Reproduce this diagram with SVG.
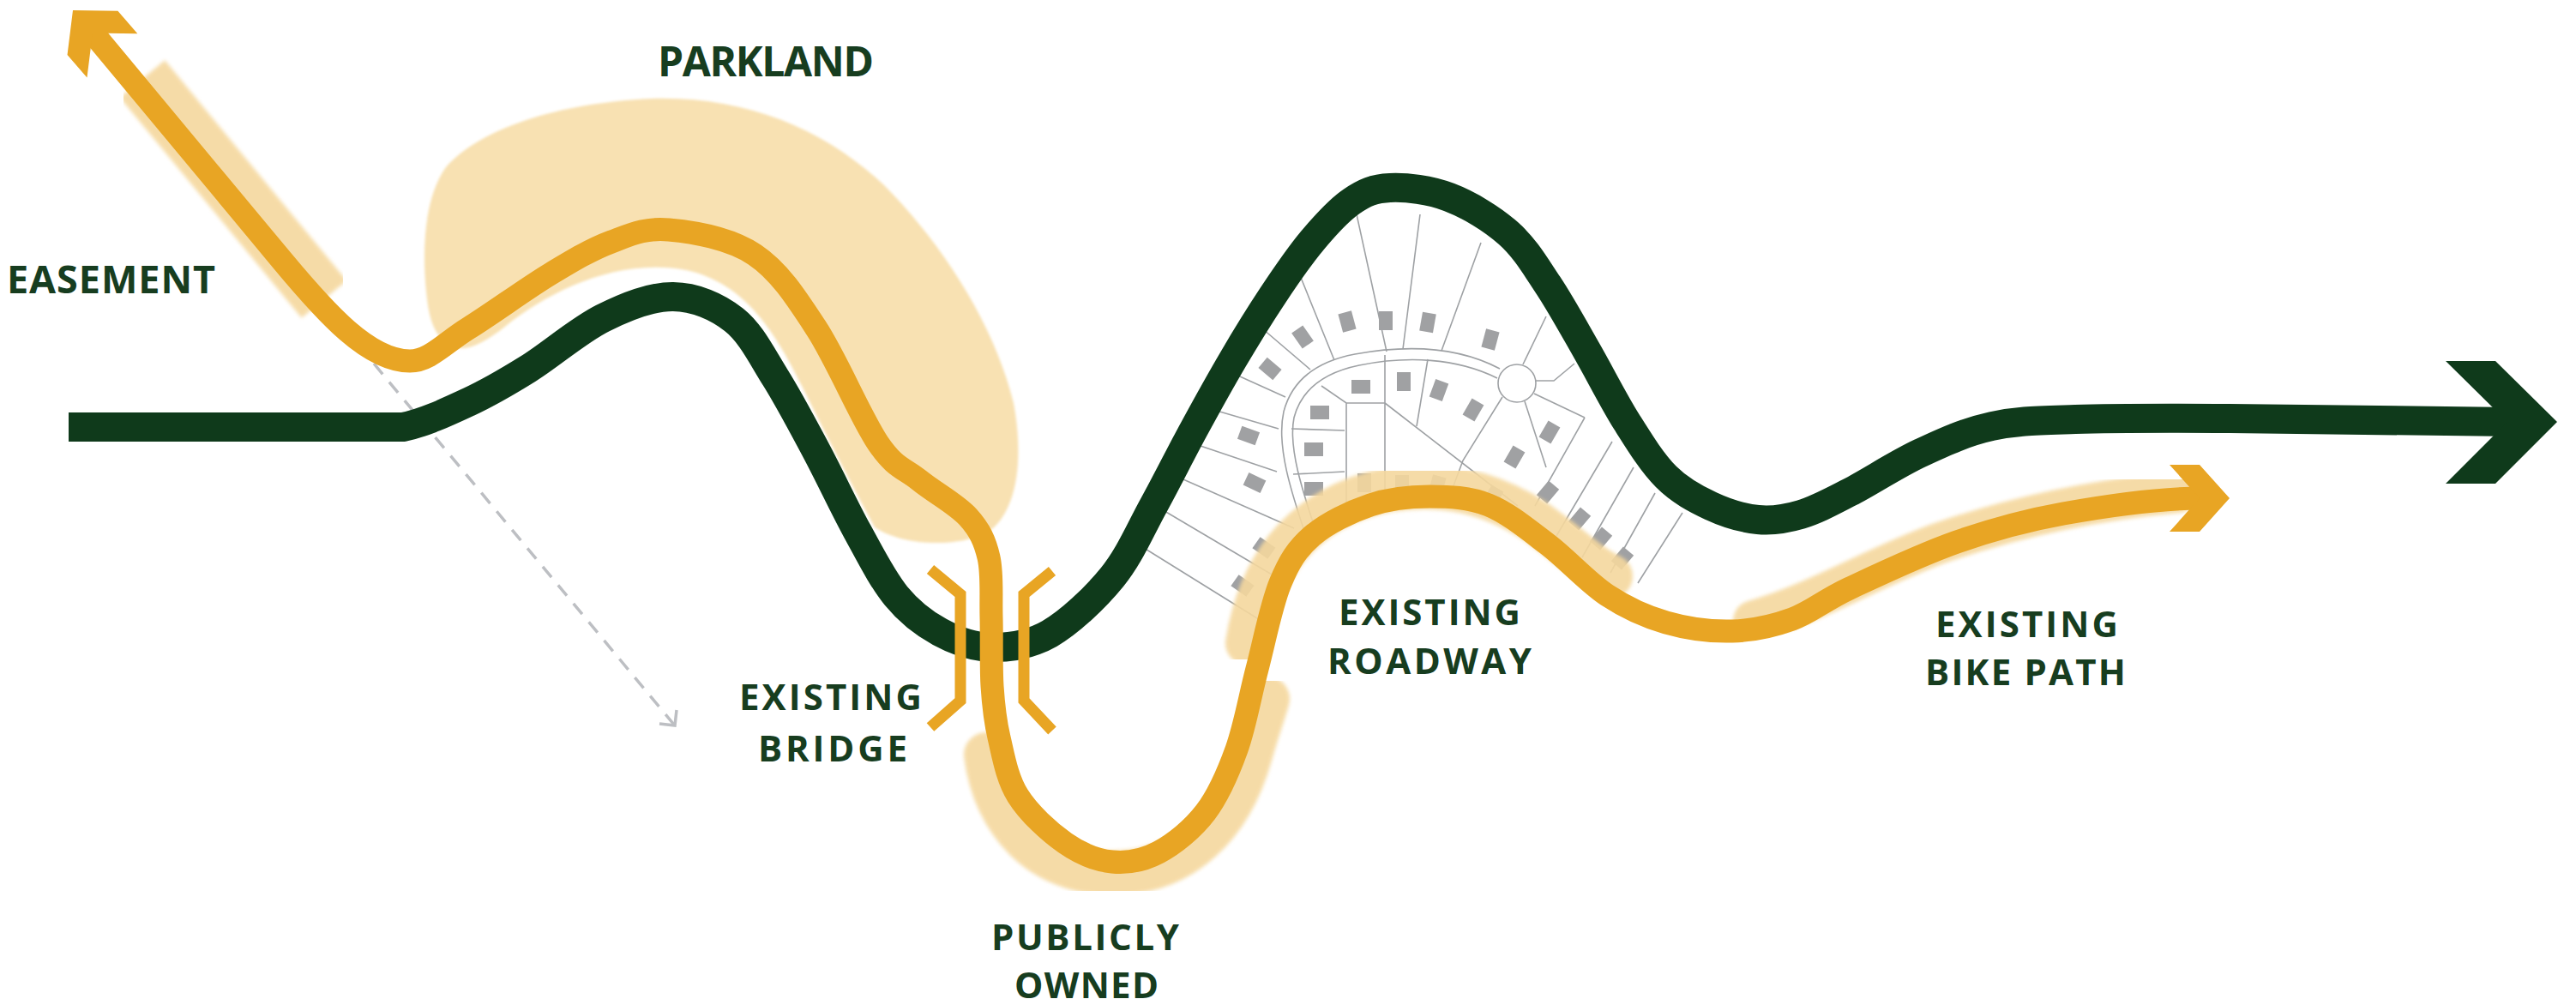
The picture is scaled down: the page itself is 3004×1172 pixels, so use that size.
<svg xmlns="http://www.w3.org/2000/svg" width="3004" height="1172" viewBox="0 0 3004 1172">
  <defs>
    <style>
      .lbl{font-family:"Open Sans","Liberation Sans",sans-serif;font-weight:700;fill:#173D1F;text-anchor:middle}
      .road{fill:none;stroke:#0F3A1B;stroke-width:34;stroke-linecap:butt;stroke-linejoin:round}
      .trail{fill:none;stroke:#E8A524;stroke-width:27;stroke-linecap:butt;stroke-linejoin:round}
      .band{fill:none;stroke:#F5D89E;stroke-linecap:round;opacity:0.9}
      .lot{fill:none;stroke:#9EA1A4;stroke-width:1.6}
      .house{fill:#A0A1A3}
      .bracket{fill:none;stroke:#E8A524;stroke-width:13;stroke-linejoin:miter}
      .dash{fill:none;stroke:#BDBFC3;stroke-width:3.5}
    </style>
    <filter id="soft" x="-10%" y="-10%" width="120%" height="120%">
      <feGaussianBlur stdDeviation="2"/>
    </filter>
    <filter id="softer" x="-5%" y="-5%" width="110%" height="110%">
      <feGaussianBlur stdDeviation="1.5"/>
    </filter>
    <polygon id="chevSmall" points="-70,-39 -35,-39 0,0 -35,39 -70,39 -35,0"/>
    <polygon id="chevLarge" points="-130,-71 -72,-71 0,0 -72,72 -130,72 -58,0"/>
    <rect id="hs" x="-8" y="-11" width="16" height="22"/>
  </defs>

  <rect x="0" y="0" width="3004" height="1172" fill="#FFFFFF"/>

  <!-- parkland area -->
  <g id="parkland">
    <path d="M497,340 C492,290 495,230 520,195 C560,150 650,120 760,115 C870,112 960,150 1030,215 C1100,285 1160,380 1182,470 C1195,540 1185,600 1150,622 C1110,640 1050,635 1020,615 C990,560 960,500 935,450 C905,390 870,330 800,315 C720,300 640,340 590,380 C565,400 545,410 530,405 C505,395 500,370 497,340 Z" fill="#F8E1B2" filter="url(#softer)"/>
    <text class="lbl" x="893" y="89" font-size="48" textLength="252">PARKLAND</text>
  </g>

  <!-- easement strip -->
  <g id="easement">
    <path class="band" d="M166,92 L378,349" stroke-width="68" style="stroke-linecap:butt" filter="url(#soft)"/>
    <text class="lbl" x="129.5" y="342" font-size="45" textLength="243">EASEMENT</text>
  </g>

  <!-- subdivision: lots, cul-de-sac and houses -->
  <g id="subdivision">
    <path class="lot" d="M1524,628 C1506,575 1488,520 1497,480 C1507,442 1538,421 1580,413 C1640,402 1700,404 1749,430"/>
    <path class="lot" d="M1536,624 C1519,573 1502,522 1509,487 C1518,453 1546,434 1585,426 C1640,415 1698,417 1746,441"/>
    <circle class="lot" cx="1769" cy="447" r="22"/>
    <path class="lot" d="M1528,431 L1466,378 M1556,420 L1509,304 M1617,410 L1582,250 M1636,407 L1656,250 M1681,409 L1727,283 M1776,425 L1803,369 M1790,444 L1812,444 L1836,424"/>
    <path class="lot" d="M1437,435 L1499,463 M1412,477 L1491,500 M1391,517 L1489,550 M1373,556 L1509,616 M1353,593 L1500,680 M1334,639 L1474,726"/>
    <path class="lot" d="M1541,450 L1570,470 L1615,470 M1570,470 L1570,592 M1615,414 L1615,585 M1615,470 L1770,590 M1665,419 L1652,497 M1752,463 L1706,537 L1690,580 M1778,468 L1803,545 M1789,459 L1848,487 M1506,500 L1568,502 M1508,553 L1568,550"/>
    <path class="lot" d="M1848,487 L1790,590 M1880,515 L1815,625 M1905,545 L1845,650 M1930,575 L1878,668 M1962,598 L1910,680"/>
    <g class="house">
      <use href="#hs" transform="translate(1519,393) rotate(-35)"/>
      <use href="#hs" transform="translate(1571,375) rotate(-15)"/>
      <use href="#hs" transform="translate(1616,374)"/>
      <use href="#hs" transform="translate(1665,376) rotate(10)"/>
      <use href="#hs" transform="translate(1738,396) rotate(15)"/>
      <use href="#hs" transform="translate(1481,430) rotate(-50)"/>
      <use href="#hs" transform="translate(1456,508) rotate(-70)"/>
      <use href="#hs" transform="translate(1463,563) rotate(-65)"/>
      <use href="#hs" transform="translate(1474,639) rotate(-55)"/>
      <use href="#hs" transform="translate(1449,683) rotate(-55)"/>
      <use href="#hs" transform="translate(1587,451) rotate(90)"/>
      <use href="#hs" transform="translate(1637,445)"/>
      <use href="#hs" transform="translate(1678,455) rotate(20)"/>
      <use href="#hs" transform="translate(1718,478) rotate(30)"/>
      <use href="#hs" transform="translate(1539,481) rotate(90)"/>
      <use href="#hs" transform="translate(1532,524) rotate(90)"/>
      <use href="#hs" transform="translate(1532,570) rotate(90)"/>
      <use href="#hs" transform="translate(1807,504) rotate(30)"/>
      <use href="#hs" transform="translate(1766,533) rotate(30)"/>
      <use href="#hs" transform="translate(1805,574) rotate(40)"/>
      <use href="#hs" transform="translate(1842,605) rotate(40)"/>
      <use href="#hs" transform="translate(1867,628) rotate(40)"/>
      <use href="#hs" transform="translate(1892,651) rotate(40)"/>
      <use href="#hs" transform="translate(1591,563)"/>
      <use href="#hs" transform="translate(1635,565)"/>
      <use href="#hs" transform="translate(1676,566) rotate(15)"/>
      <use href="#hs" transform="translate(1741,579) rotate(30)"/>
    </g>
  </g>

  <!-- publicly owned strip -->
  <g id="publicly-owned">
    <path class="band" d="M1150,880 C1160,960 1215,1018 1297,1018 C1380,1018 1435,962 1458,880 C1468,845 1474,830 1478,815" stroke-width="52" filter="url(#soft)"/>
    <text class="lbl" x="1265.5" y="1108" font-size="42" textLength="219">PUBLICLY</text>
    <text class="lbl" x="1267" y="1164" font-size="42" textLength="168">OWNED</text>
  </g>

  <!-- existing roadway strip -->
  <g id="existing-roadway">
    <path class="band" d="M1455,750 C1462,705 1478,668 1500,640 C1530,603 1572,580 1620,571 C1680,562 1735,572 1790,608 C1830,636 1852,660 1878,672" stroke-width="52" filter="url(#soft)"/>
    <text class="lbl" x="1667" y="729" font-size="42" textLength="212">EXISTING</text>
    <text class="lbl" x="1667" y="786" font-size="42" textLength="238">ROADWAY</text>
  </g>

  <!-- existing bike path strip -->
  <g id="existing-bike-path">
    <path class="band" d="M2045,724 C2120,702 2180,664 2260,634 C2340,606 2430,584 2540,574" stroke-width="48" filter="url(#soft)"/>
    <text class="lbl" x="2363.5" y="743" font-size="42" textLength="213">EXISTING</text>
    <text class="lbl" x="2362" y="799" font-size="42" textLength="234">BIKE PATH</text>
  </g>

  <!-- connectors -->
  <g id="connectors">
    <!-- dashed alternative route -->
    <path class="dash" d="M436,424 L786,845" stroke-dasharray="16 12"/>
    <path class="dash" d="M769,844 L787,846 L789,828" stroke-linejoin="miter"/>

    <!-- main road -->
    <path class="road" d="M80,498 L470,498 C494.3,493.2 521.7,480.3 546,469 C570.3,457.7 589.8,446.3 616,430 C642.2,413.7 674.8,385 703,371 C731.2,357 759.5,345.7 785,346 C810.5,346.3 836.2,357.3 856,373 C875.8,388.7 888,414.5 904,440 C920,465.5 936,496 952,526 C968,556 984.5,591.8 1000,620 C1015.5,648.2 1029,675.5 1045,695 C1061,714.5 1077.5,727 1096,737 C1114.5,747 1134.7,754.7 1156,755 C1177.3,755.3 1200.5,752.7 1224,739 C1247.5,725.3 1276.8,697.8 1297,673 C1317.2,648.2 1329.2,618.7 1345,590 C1360.8,561.3 1376.5,529.5 1392,501 C1407.5,472.5 1422.7,445 1438,419 C1453.3,393 1468.7,368 1484,345 C1499.3,322 1514.7,299.3 1530,281 C1545.3,262.7 1560.8,245.3 1576,235 C1591.2,224.7 1602,219.8 1621,219 C1640,218.2 1667,221.2 1690,230 C1713,238.8 1739.8,255 1759,272 C1778.2,289 1789.7,309 1805,332 C1820.3,355 1835.7,383.3 1851,410 C1866.3,436.7 1881.7,467.7 1897,492 C1912.3,516.3 1926.7,539.7 1943,556 C1959.3,572.3 1977.2,581.7 1995,590 C2012.8,598.3 2032.5,604.3 2050,606 C2067.5,607.7 2082.2,605.3 2100,600 C2117.8,594.7 2133.7,586 2157,574 C2180.3,562 2212.3,540.8 2240,528 C2267.7,515.2 2293,503.5 2323,497 C2353,490.5 2373.8,490.5 2420,489 C2466.2,487.5 2515.8,487.5 2600,488 L2930,492"/>
    <use href="#chevLarge" fill="#0F3A1B" transform="translate(2982,492)"/>

    <!-- proposed trail -->
    <path class="trail" d="M108,38 L330,305 C380,365 430,421 478,421 C501,421 518.8,399.8 546,383 C573.2,366.2 613.2,336.8 641,320 C668.8,303.2 689.8,290.7 713,282 C736.2,273.3 752.2,265.5 780,268 C807.8,270.5 851.3,277.8 880,297 C908.7,316.2 928,346.3 952,383 C976,419.7 1004,487.5 1024,517 C1044,546.5 1054.5,545.7 1072,560 C1089.5,574.3 1115.5,588 1129,603 C1142.5,618 1148.5,630.5 1153,650 C1157.5,669.5 1155.3,695 1156,720 C1156.7,745 1155.5,776.7 1157,800 C1158.5,823.3 1160,838.7 1165,860 C1170,881.3 1174.2,907.5 1187,928 C1199.8,948.5 1223.7,970.2 1242,983 C1260.3,995.8 1278.8,1003.2 1297,1005 C1315.2,1006.8 1332.8,1003.7 1351,994 C1369.2,984.3 1390.8,967 1406,947 C1421.2,927 1432,901.8 1442,874 C1452,846.2 1457.5,812.3 1466,780 C1474.5,747.7 1482.3,705.8 1493,680 C1503.7,654.2 1512.5,640.2 1530,625 C1547.5,609.8 1575.2,596.7 1598,589 C1620.8,581.3 1644,579 1667,579 C1690,579 1713,579.7 1736,589 C1759,598.3 1782,617.5 1805,635 C1828,652.5 1851,678.8 1874,694 C1897,709.2 1918.7,719 1943,726 C1967.3,733 1995.5,736.7 2020,736 C2044.5,735.3 2067.2,730.3 2090,722 C2112.8,713.7 2125,701 2157,686 C2189,671 2240.5,646.5 2282,632 C2323.5,617.5 2358.8,607.5 2406,599 C2453.2,590.5 2515,581 2568,581"/>
    <use href="#chevSmall" fill="#E8A524" transform="translate(85,12) rotate(-131)"/>
    <use href="#chevSmall" fill="#E8A524" transform="translate(2600,581)"/>
  </g>

  <!-- existing bridge -->
  <g id="existing-bridge">
    <polyline class="bracket" points="1085,664 1120,693 1120,817 1085,848"/>
    <polyline class="bracket" points="1227,666 1194,693 1194,817 1227,852"/>
    <text class="lbl" x="968.5" y="828" font-size="42" textLength="213">EXISTING</text>
    <text class="lbl" x="971" y="888" font-size="42" textLength="174">BRIDGE</text>
  </g>
</svg>
